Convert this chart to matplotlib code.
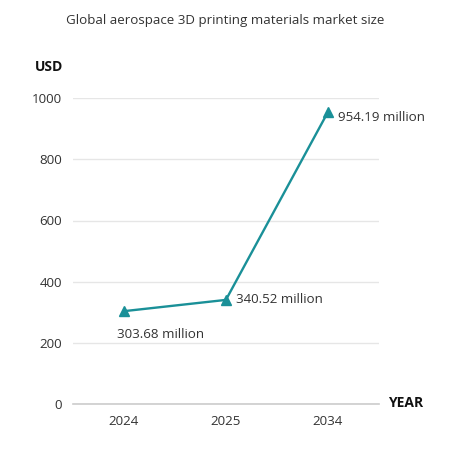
import matplotlib
matplotlib.use('Agg')
import matplotlib.pyplot as plt

years = ['2024', '2025', '2034']
values = [303.68, 340.52, 954.19]
labels = ['303.68 million', '340.52 million', '954.19 million']
yticks = [0, 200, 400, 600, 800, 1000]

teal = '#1a9098'
plt.rcParams['font.family'] = ['Open Sans', 'DejaVu Sans']

fig = plt.figure(figsize=(4.5, 4.5), dpi=100)
ax = fig.add_axes([0.162, 0.102, 0.68, 0.68])

x = range(len(years))
ax.plot(x, values, color=teal, linewidth=1.7, marker='^', markersize=7, zorder=3)

# value labels
ax.annotate(labels[0], (0, values[0]), xytext=(-5, -17), textcoords='offset points',
            fontsize=9.6, color='#333333', ha='left', va='center')
ax.annotate(labels[1], (1, values[1]), xytext=(7, 0), textcoords='offset points',
            fontsize=9.6, color='#333333', ha='left', va='center')
ax.annotate(labels[2], (2, values[2]), xytext=(7, -4), textcoords='offset points',
            fontsize=9.6, color='#333333', ha='left', va='center')

ax.set_xlim(-0.5, 2.5)
ax.set_ylim(0, 1000)
ax.set_xticks(list(x))
ax.set_xticklabels(years)
ax.set_yticks(yticks)
ax.tick_params(axis='both', length=0, labelsize=9.6, colors='#333333', pad=8)
ax.grid(axis='y', color='#e6e6e6', linewidth=1)
ax.set_axisbelow(True)
for s in ['top', 'right', 'left']:
    ax.spines[s].set_visible(False)
ax.spines['bottom'].set_color('#cccccc')
ax.spines['bottom'].set_linewidth(1.2)

fig.text(0.5, 0.955, 'Global aerospace 3D printing materials market size',
         ha='center', va='center', fontsize=9.6, color='#333333')
fig.text(0.077, 0.851, 'USD', ha='left', va='center', fontsize=10,
         fontweight='bold', color='#111111')
fig.text(0.862, 0.104, 'YEAR', ha='left', va='center', fontsize=10,
         fontweight='bold', color='#111111')

fig.savefig('out.png', dpi=100)
